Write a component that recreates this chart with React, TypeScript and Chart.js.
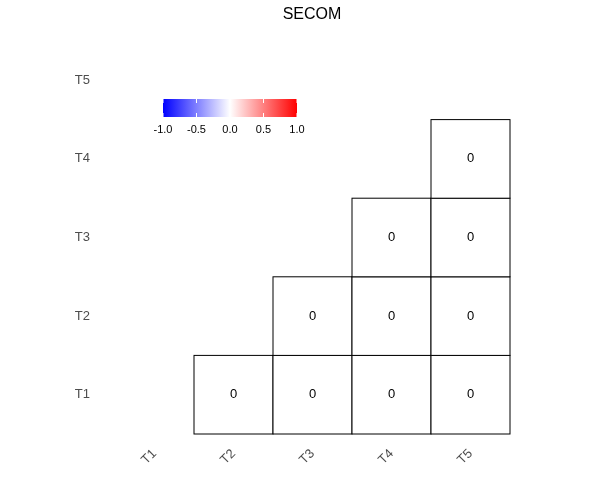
import React, { useEffect, useRef } from 'react';
import Chart from 'chart.js/auto';

const vars = ['T1', 'T2', 'T3', 'T4', 'T5'];
// lower-triangle cells: [x, y, correlation]
const cells: [string, string, number][] = [
  ['T2', 'T1', 0], ['T3', 'T1', 0], ['T4', 'T1', 0], ['T5', 'T1', 0],
  ['T3', 'T2', 0], ['T4', 'T2', 0], ['T5', 'T2', 0],
  ['T4', 'T3', 0], ['T5', 'T3', 0],
  ['T5', 'T4', 0],
];
const legendTicks = [-1, -0.5, 0, 0.5, 1];
const FONT = '"Liberation Sans", Arial, sans-serif';

function corrColor(v: number) {
  const t = Math.min(1, Math.abs(v));
  const c = Math.round(255 * (1 - t));
  return v >= 0 ? `rgb(255,${c},${c})` : `rgb(${c},${c},255)`;
}

const tilePlugin = {
  id: 'tiles',
  afterDatasetsDraw(chart: any) {
    const { ctx, scales } = chart;
    const xs = scales.x, ys = scales.y;
    const w = chart.chartArea.width / vars.length;
    const h = chart.chartArea.height / vars.length;
    ctx.save();
    cells.forEach(([cx, cy, v]) => {
      const px = xs.getPixelForValue(vars.indexOf(cx));
      const py = ys.getPixelForValue(vars.indexOf(cy));
      ctx.fillStyle = corrColor(v);
      ctx.fillRect(px - w / 2, py - h / 2, w, h);
      ctx.strokeStyle = '#000';
      ctx.lineWidth = 1;
      ctx.strokeRect(px - w / 2, py - h / 2, w, h);
      ctx.fillStyle = '#000';
      ctx.font = `13px ${FONT}`;
      ctx.textAlign = 'center';
      ctx.textBaseline = 'middle';
      ctx.fillText(String(v), px, py);
    });
    // title
    ctx.font = `16px ${FONT}`;
    ctx.fillStyle = '#000';
    ctx.fillText('SECOM', 312, 15);
    // colour bar legend
    const x0 = 163, x1 = 297, y0 = 99, y1 = 117;
    const g = ctx.createLinearGradient(x0, 0, x1, 0);
    g.addColorStop(0, '#0000ff');
    g.addColorStop(0.5, '#ffffff');
    g.addColorStop(1, '#ff0000');
    ctx.fillStyle = g;
    ctx.fillRect(x0, y0, x1 - x0, y1 - y0);
    ctx.font = `11px ${FONT}`;
    legendTicks.forEach(t => {
      const px = x0 + ((t + 1) / 2) * (x1 - x0);
      ctx.strokeStyle = '#fff';
      ctx.beginPath();
      ctx.moveTo(px, y0); ctx.lineTo(px, y0 + 4);
      ctx.moveTo(px, y1); ctx.lineTo(px, y1 - 4);
      ctx.stroke();
      ctx.fillStyle = '#000';
      ctx.fillText(t.toFixed(1), px, 130);
    });
    ctx.restore();
  },
};

const App: React.FC = () => {
  const ref = useRef<HTMLCanvasElement | null>(null);

  useEffect(() => {
    document.body.style.margin = '0';
    if (!ref.current) return;
    const chart = new Chart(ref.current, {
      type: 'scatter',
      data: { datasets: [{ data: [], pointRadius: 0 }] },
      options: {
        animation: false,
        responsive: false,
        layout: { padding: { top: 41, right: 90, left: 0, bottom: 0 } },
        plugins: { legend: { display: false }, tooltip: { enabled: false } },
        scales: {
          x: {
            type: 'category',
            labels: vars,
            offset: true,
            grid: { display: false },
            border: { display: false },
            ticks: { color: '#4d4d4d', font: { family: FONT, size: 13 }, minRotation: 45, maxRotation: 45, padding: 4 },
            afterFit: (s: any) => { s.height = 46; },
          },
          y: {
            type: 'category',
            labels: vars,
            reverse: true,
            offset: true,
            grid: { display: false },
            border: { display: false },
            ticks: { color: '#4d4d4d', font: { family: FONT, size: 13 }, padding: 17 },
            afterFit: (s: any) => { s.width = 115; },
          },
        },
      },
      plugins: [tilePlugin],
    });
    return () => chart.destroy();
  }, []);

  return <canvas ref={ref} width={600} height={480} style={{ display: 'block' }} />;
};

export default App;
